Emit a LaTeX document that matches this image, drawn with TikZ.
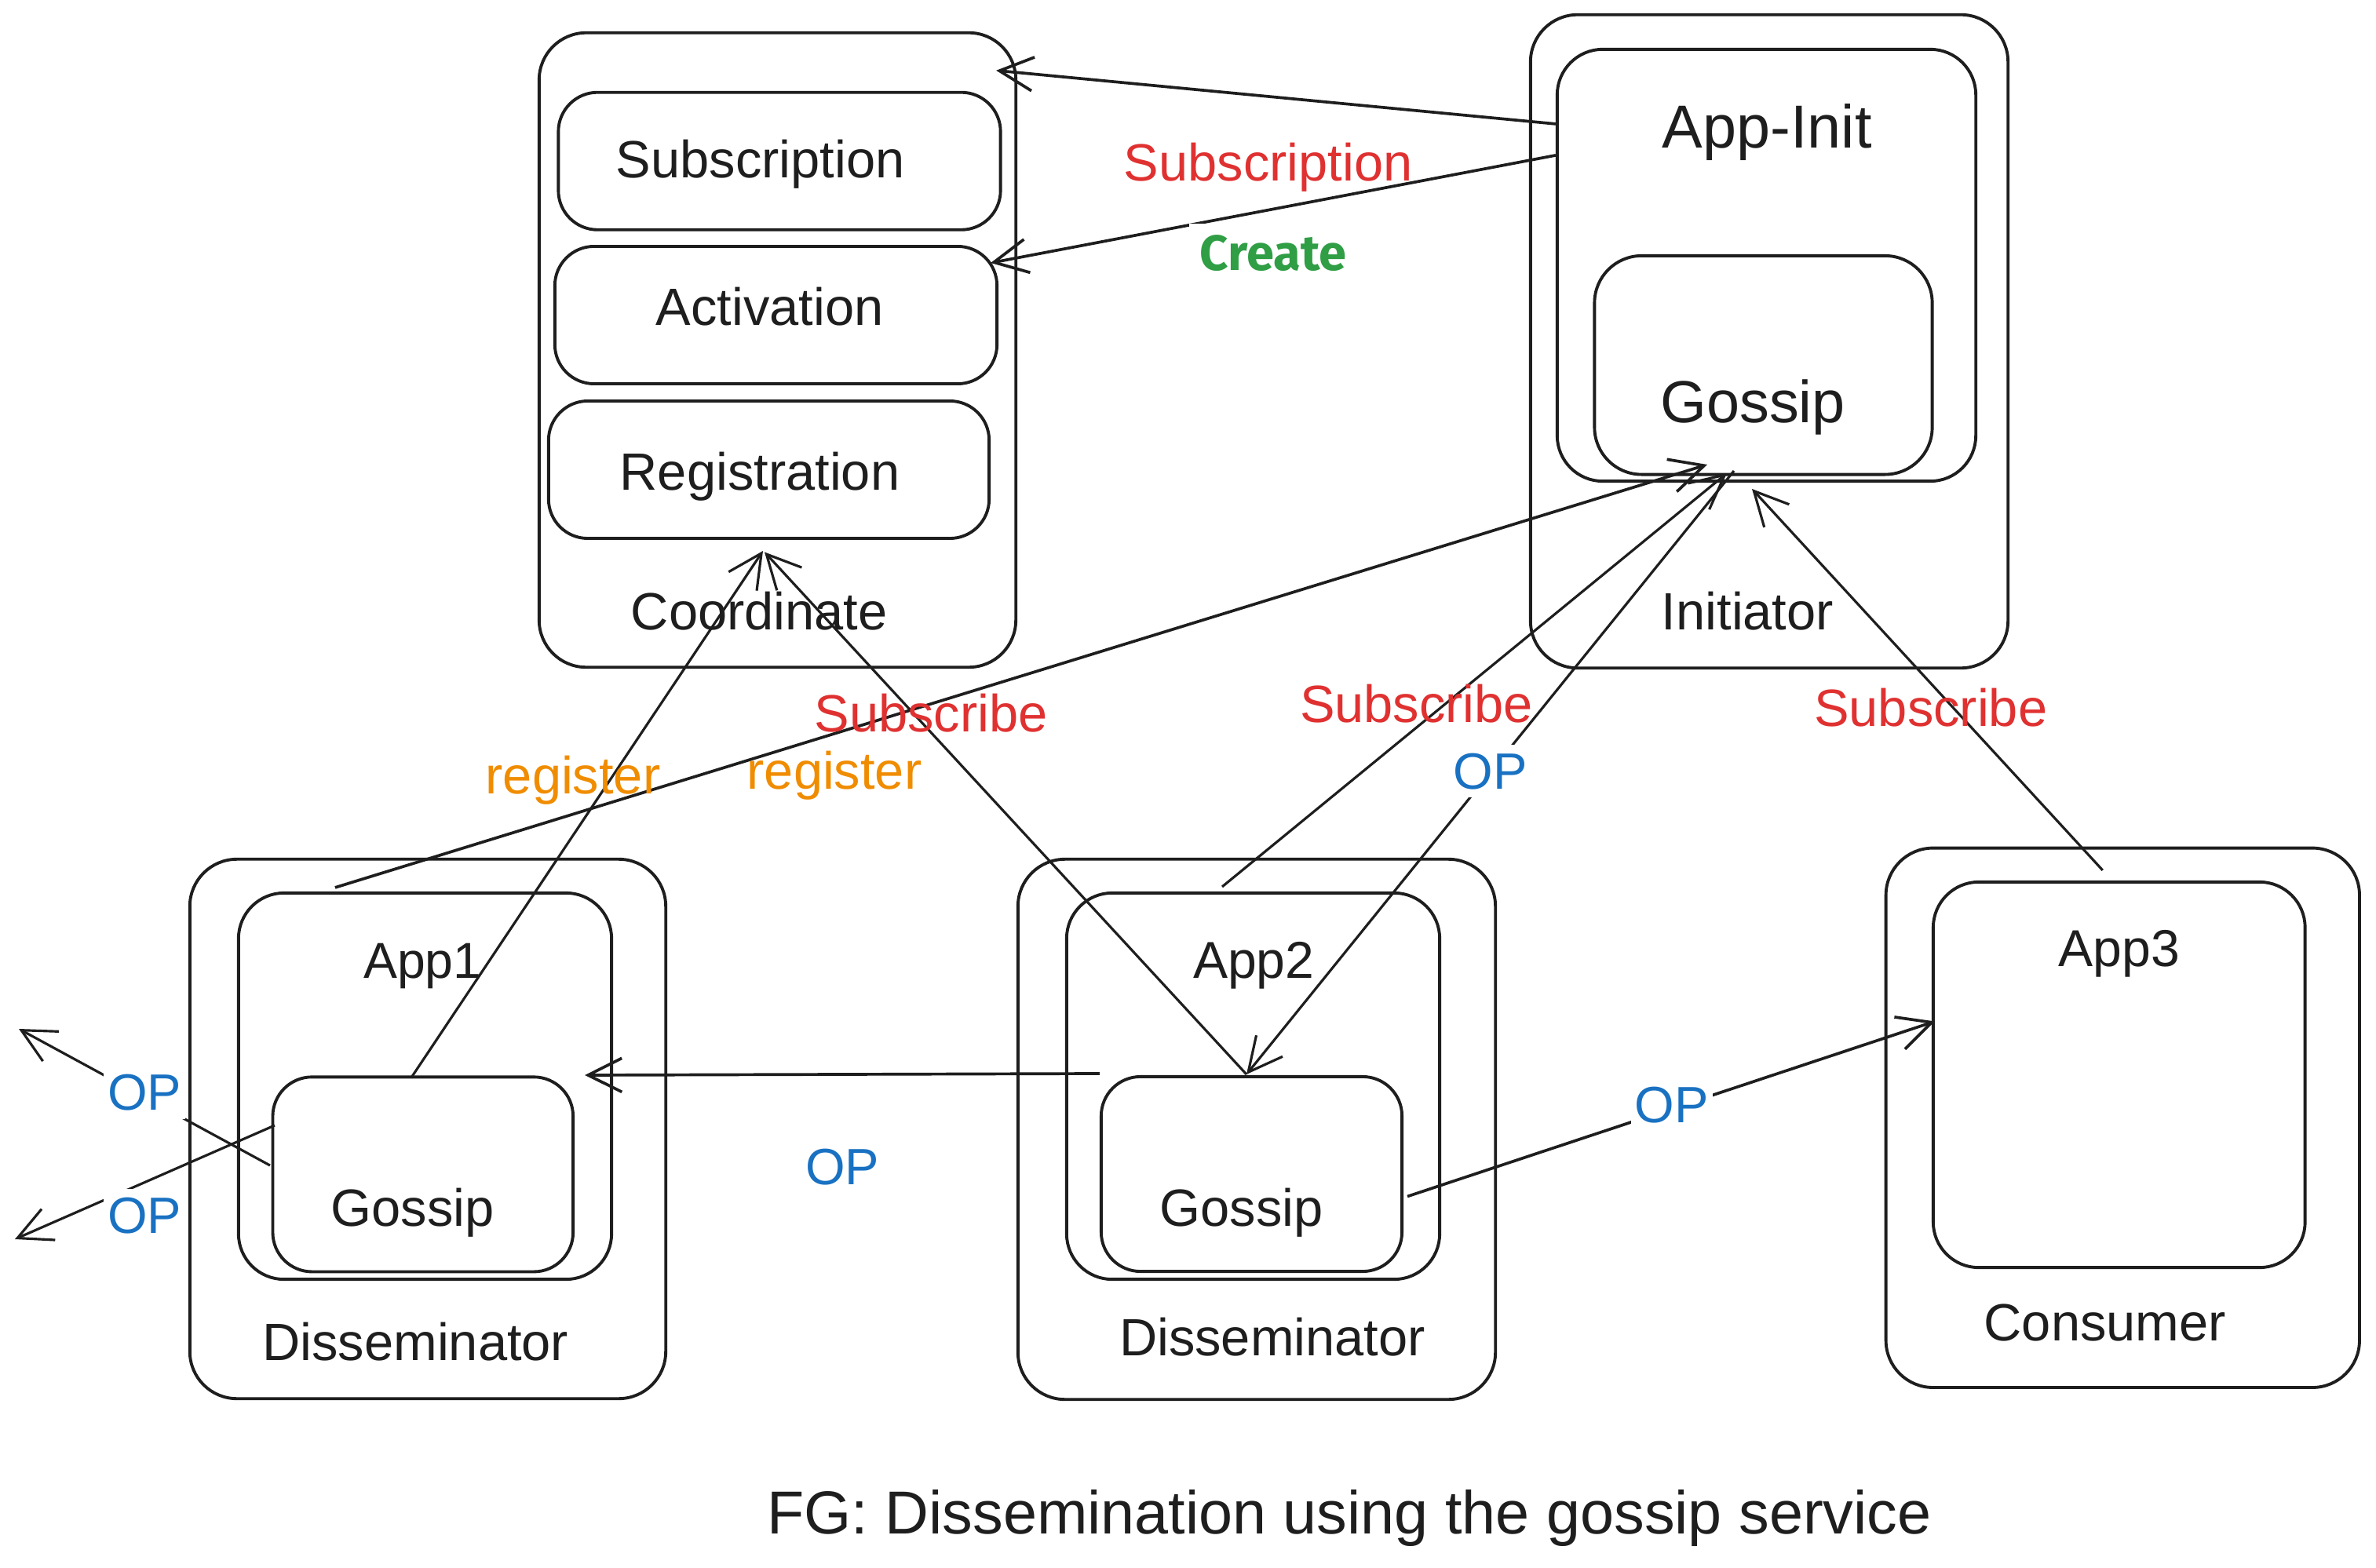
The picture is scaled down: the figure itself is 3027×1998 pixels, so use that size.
\documentclass[tikz,border=0pt]{standalone}
\usepackage{fontspec}
\setmainfont{Liberation Sans}
\newfontfamily\createfont{Fira Sans}
\usetikzlibrary{arrows.meta,calc}
\definecolor{ink}{HTML}{1E1E1E}
\definecolor{lred}{HTML}{E03131}
\definecolor{lorange}{HTML}{F08C00}
\definecolor{lblue}{HTML}{1971C2}
\definecolor{lgreen}{HTML}{2F9E44}
\begin{document}
\begin{tikzpicture}[x=0.01cm,y=-0.01cm,
  obox/.style={draw=ink,line width=1.1pt,rounded corners=0.6cm,inner sep=0pt},
  mbox/.style={draw=ink,line width=1.1pt,rounded corners=0.58cm,inner sep=0pt},
  gbox/.style={draw=ink,line width=1.1pt,rounded corners=0.5cm,inner sep=0pt},
  ibox/.style={draw=ink,line width=1.1pt,rounded corners=0.5cm,inner sep=0pt},
  tip/.style={-{Straight Barb[length=4.3mm,width=4.3mm]}},
  arr/.style={draw=ink,line width=0.9pt,tip},
  arrb/.style={draw=ink,line width=1.05pt,tip},
  lbl/.style={font=\fontsize{19}{22}\selectfont,inner sep=0pt,anchor=base,text=ink},
  redl/.style={lbl,text=lred},
  orgl/.style={lbl,text=lorange},
  opl/.style={lbl,font=\fontsize{18.5}{22}\selectfont,text=lblue,fill=white,inner xsep=1.5pt,inner ysep=3pt},
]
\fill[white] (0,0) rectangle (3027,1998);
\useasboundingbox (0,0) rectangle (3027,1998);

% Coordinate
\node[obox,minimum width=6.07cm,minimum height=8.08cm] (coord) at (990.5,446) {};
\node[ibox,minimum width=5.63cm,minimum height=1.75cm] (subs) at (993,205.25) {};
\node[ibox,minimum width=5.63cm,minimum height=1.75cm] (activ) at (988.5,401.5) {};
\node[ibox,minimum width=5.61cm,minimum height=1.75cm] (regis) at (979.5,598.5) {};
\node[lbl] (subst) at (968.6,226.7) {Subscription};
\node[lbl] (activt) at (980.6,414.5) {Activation};
\node[lbl] (regist) at (968,624.6) {Registration};
\node[lbl] (coordt) at (967.3,802.5) {Coordinate};

% Initiator
\node[obox,minimum width=6.08cm,minimum height=8.32cm] (init) at (2254,435) {};
\node[mbox,minimum width=5.33cm,minimum height=5.5cm] (appinit) at (2250.5,338) {};
\node[gbox,rounded corners=0.6cm,minimum width=4.30cm,minimum height=2.785cm] (igos) at (2246.5,465.25) {};
\node[lbl,font=\fontsize{22}{26}\selectfont] (appinitt) at (2251.2,188.3) {App-Init};
\node[lbl,font=\fontsize{21.5}{26}\selectfont] (igost) at (2233,538.5) {Gossip};
\node[lbl] (initt) at (2226.4,802.5) {Initiator};

% Disseminator 1
\node[obox,minimum width=6.06cm,minimum height=6.87cm] (dis1) at (545,1438.5) {};
\node[mbox,minimum width=4.75cm,minimum height=4.92cm] (app1) at (541.5,1384) {};
\node[gbox,minimum width=3.824cm,minimum height=2.48cm] (gos1) at (538.8,1496.4) {};
\node[lbl,font=\fontsize{18.3}{22}\selectfont] (app1t) at (538.3,1246.4) {App1};
\node[lbl] (gos1t) at (525.5,1562.8) {Gossip};
\node[lbl] (dis1t) at (529.3,1733.7) {Disseminator};

% Disseminator 2
\node[obox,minimum width=6.08cm,minimum height=6.88cm] (dis2) at (1601,1439) {};
\node[mbox,minimum width=4.75cm,minimum height=4.92cm] (app2) at (1596.5,1384) {};
\node[gbox,minimum width=3.83cm,minimum height=2.48cm] (gos2) at (1594.5,1496) {};
\node[lbl,font=\fontsize{18.8}{22}\selectfont] (app2t) at (1597.2,1246.4) {App2};
\node[lbl] (gos2t) at (1581.7,1562.8) {Gossip};
\node[lbl] (dis2t) at (1621,1727.6) {Disseminator};

% Consumer
\node[obox,minimum width=6.03cm,minimum height=6.87cm] (cons) at (2704.3,1424.3) {};
\node[mbox,minimum width=4.735cm,minimum height=4.91cm] (app3) at (2699.75,1369.5) {};
\node[lbl,font=\fontsize{18.8}{22}\selectfont] (app3t) at (2700,1231) {App3};
\node[lbl] (const) at (2681.8,1708) {Consumer};

% connectors
\draw[arrb] ($(appinit.north west)+(0,97)$) -- ($(coord.north east)+(-27,50)$);
\draw[arrb] ($(appinit.north west)+(0,137)$) -- ($(activ.north east)+(-10,23)$);
\draw[arrb] ($(app1.north west)+(125,-5)$) -- ($(igos.south)+(-71.5,-14.5)$);
\draw[arr] ($(gos1.north)+(-15,3)$) -- ($(regis.south)+(-7.5,14)$);
\draw[arr] ($(gos2.north)+(-6.5,-1)$) -- ($(regis.south)+(-5.5,15.5)$);
\draw[arr] ($(app2.north)+(-39.5,-6)$) -- ($(igos.south)+(-46.5,-3.5)$);
\draw[arr] ($(igos.south)+(-37.5,-6.5)$) -- ($(gos2.north)+(-6.5,-1)$);
\draw[arr] ($(app3.north)+(-21,-13)$) -- ($(igos.south)+(-14.5,16.5)$);
\draw[arrb] ($(gos2.north west)+(0,-2)$) -- ($(app1.east)+(-36,-14)$);
\draw[arrb] ($(gos2.east)+(5,28.5)$) -- ($(app3.west)+(4,-68)$);
\coordinate (outA) at (24,1311);
\coordinate (outB) at (19,1579);
\draw[arr] ($(gos1.west)+(-1.6,-11.4)$) -- (outA);
\draw[arr] ($(gos1.west)+(4.4,-62.4)$) -- (outB);

% labels
\node[redl] (l1) at (1615.7,230.8) {Subscription};
\node[lbl,font=\createfont\bfseries\fontsize{18}{22}\selectfont,text=lgreen,fill=white,inner sep=4pt] (l2) at (1622,344.4) {Create};
\node[redl] (l3) at (1186,932.3) {Subscribe};
\node[orgl] (l4) at (730,1011.7) {register};
\node[orgl] (l5) at (1063,1005) {register};
\node[redl] (l6) at (1804.6,921) {Subscribe};
\node[opl] (l7) at (1898.7,1005) {OP};
\node[redl] (l8) at (2459.7,926) {Subscribe};
\node[opl] (l9) at (184,1414.8) {OP};
\node[opl] (l10) at (184,1571.4) {OP};
\node[opl] (l11) at (1073,1509) {OP};
\node[opl] (l12) at (2129.8,1430) {OP};

\node[lbl,font=\fontsize{22}{26}\selectfont] (title) at (1719,1954) {FG: Dissemination using the gossip service};
\end{tikzpicture}
\end{document}
